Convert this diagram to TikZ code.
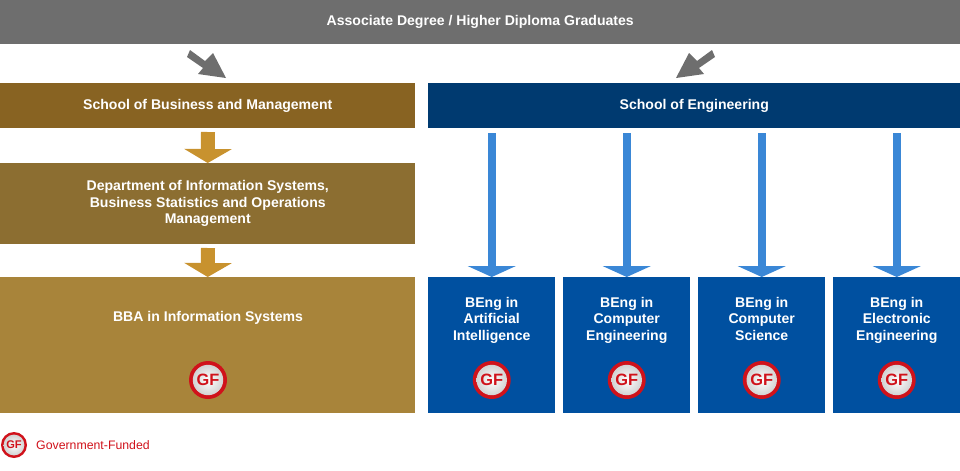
\documentclass[tikz,border=0pt]{standalone}
\usepackage{fontspec}
\setmainfont{Liberation Sans}
\usetikzlibrary{arrows.meta,positioning,shadings,calc}
\definecolor{topgray}{HTML}{6E6E6E}
\definecolor{busbrown}{HTML}{886322}
\definecolor{deptbrown}{HTML}{8C6E31}
\definecolor{bbagold}{HTML}{A8843A}
\definecolor{arrowgold}{HTML}{C8922E}
\definecolor{engnavy}{HTML}{003A70}
\definecolor{progblue}{HTML}{0050A0}
\definecolor{arrowblue}{HTML}{3A87D6}
\definecolor{gfred}{HTML}{D0121B}
\tikzset{
  box/.style = {draw=none, inner sep=0pt, text=white, align=center,
                font=\fontsize{12}{14}\selectfont\bfseries},
  prog/.style = {box, fill=progblue, minimum width=127*0.03cm, minimum height=136*0.03cm},
  goldarrow/.style = {arrowgold, line width=14*0.03cm, -{Triangle[width=47*0.03cm,length=14*0.03cm]}},
  bluearrow/.style = {arrowblue, line width=8*0.03cm, -{Triangle[width=48*0.03cm,length=11*0.03cm]}},
}
% #1 centre, #2 radius (px), #3 font size (pt)
\newcommand{\gfbadge}[3]{%
  \fill[gfred] (#1) circle (#2*0.03cm);
  \shade[inner color=white, outer color=gray!35] (#1) circle (#2*0.8*0.03cm);
  \node[text=gfred, font=\fontsize{#3}{#3}\selectfont\bfseries] at (#1) {GF};
}
\begin{document}
\begin{tikzpicture}[x=0.03cm, y=-0.03cm]
  \useasboundingbox (0,0) rectangle (960,470);

  % top bar
  \node[box, fill=topgray, minimum width=960*0.03cm, minimum height=44*0.03cm, anchor=north west]
    (grad) at (0,0) {Associate Degree / Higher Diploma Graduates};
  \fill[topgray] (190,50) -- (205,61) -- (213,53) -- (226,78) -- (198,74) -- (203,68) -- (187,57) -- cycle;
  \fill[topgray] (712,50) -- (697,61) -- (689,53) -- (676,78) -- (704,74) -- (699,68) -- (715,57) -- cycle;

  % business side
  \node[box, fill=busbrown, minimum width=415*0.03cm, minimum height=45*0.03cm, anchor=north west]
    (sbm) at (0,83) {School of Business and Management};
  \node[box, fill=deptbrown, minimum width=415*0.03cm, minimum height=81*0.03cm, anchor=north west]
    (dept) at (0,163) {Department of Information Systems,\\Business Statistics and Operations\\Management};
  \node[box, fill=bbagold, minimum width=415*0.03cm, minimum height=136*0.03cm, anchor=north west]
    (bba) at (0,277) {};
  \node[box] at (208,318) {BBA in Information Systems};
  \draw[goldarrow] (208,132) -- (dept.north);
  \draw[goldarrow] (208,248) -- (bba.north);

  % engineering side
  \node[box, fill=engnavy, minimum width=532*0.03cm, minimum height=45*0.03cm, anchor=north west]
    (seng) at (428,83) {School of Engineering};
  \node[prog, anchor=north west] (ai) at (428,277) {};
  \node[prog, anchor=north west] (ce) at (563,277) {};
  \node[prog, anchor=north west] (cs) at (698,277) {};
  \node[prog, anchor=north west] (ee) at (833,277) {};
  \foreach \p/\t in {ai/{BEng in\\Artificial\\Intelligence}, ce/{BEng in\\Computer\\Engineering},
                     cs/{BEng in\\Computer\\Science}, ee/{BEng in\\Electronic\\Engineering}} {
    \node[box, anchor=north] at ([yshift=-20*0.03cm]\p.north) {\t};
    \draw[bluearrow] (\p.north |- seng.south) ++(0,5) -- (\p.north);
    \gfbadge{$(\p.north)+(0,103)$}{19}{14}
  }
  \gfbadge{208,380}{19}{14}

  % legend
  \gfbadge{14,445}{13}{9.5}
  \node[anchor=west, text=gfred, font=\fontsize{10.5}{12}\selectfont, inner sep=0pt] (gflabel) at (36,445) {Government-Funded};
\end{tikzpicture}
\end{document}
